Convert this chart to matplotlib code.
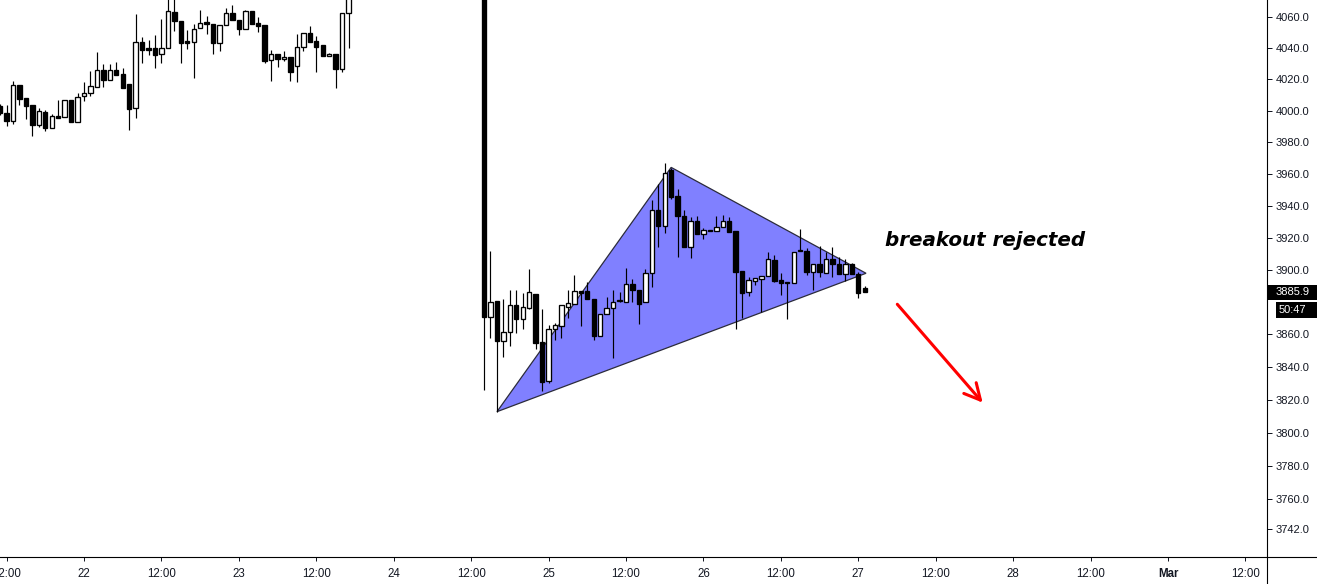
import matplotlib
matplotlib.use("Agg")
import matplotlib.pyplot as plt
import numpy as np
import pandas as pd
from matplotlib.patches import Polygon, Rectangle
from matplotlib.lines import Line2D
from matplotlib.ticker import FixedLocator, FixedFormatter, NullLocator

# ---------------- data (hourly candles) ----------------
ref_time = pd.Timestamp("2021-02-22 00:00")

s1_start = "2021-02-21 11:00"
s1_open = [4003.1, 3998.4, 3993.7, 4016.3, 4008.0, 4003.5, 3990.8, 3999.0, 3988.9, 3996.5,
           3995.9, 4006.9, 3993.1, 4009.6, 4011.2, 4015.4, 4025.9, 4019.9, 4025.9, 4023.5,
           4017.1, 4002.0, 4043.9, 4040.0, 4040.0, 4036.2, 4040.0, 4063.2, 4057.4, 4044.5,
           4044.3, 4052.9, 4056.8, 4055.5, 4043.6, 4055.0, 4062.6, 4058.3, 4052.3, 4063.9,
           4056.3, 4055.0, 4032.3, 4036.2, 4033.0, 4034.2, 4028.5, 4040.6, 4049.7, 4044.5,
           4041.9, 4034.9, 4036.2, 4026.5, 4062.6]
s1_high = [4004.0, 4003.5, 4019.0, 4016.5, 4008.0, 4003.5, 4001.6, 4000.5, 3998.0, 4006.9,
           4006.9, 4006.9, 4011.2, 4018.4, 4025.4, 4037.6, 4029.9, 4029.9, 4031.2, 4027.2,
           4017.1, 4062.1, 4047.1, 4045.4, 4048.6, 4058.9, 4072.0, 4073.0, 4057.4, 4051.8,
           4055.7, 4064.7, 4060.8, 4055.5, 4055.0, 4065.8, 4067.9, 4058.3, 4064.7, 4063.9,
           4060.0, 4055.0, 4038.9, 4036.2, 4038.1, 4034.2, 4049.2, 4049.7, 4054.2, 4047.7,
           4041.9, 4037.2, 4036.2, 4062.6, 4078.0]
s1_low = [3997.5, 3990.3, 3991.6, 4003.7, 3995.0, 3984.0, 3989.9, 3987.4, 3988.9, 3995.6,
          3995.9, 3993.1, 3993.1, 4006.5, 4009.6, 4015.4, 4015.4, 4019.9, 4023.1, 4014.8,
          3987.8, 3995.6, 4030.8, 4035.7, 4027.6, 4030.8, 4040.0, 4051.2, 4030.8, 4039.6,
          4021.2, 4052.9, 4049.4, 4036.5, 4038.5, 4055.0, 4058.3, 4048.4, 4052.3, 4055.5,
          4050.3, 4030.4, 4018.8, 4028.2, 4031.9, 4018.8, 4018.4, 4038.1, 4044.3, 4024.6,
          4034.9, 4034.9, 4014.4, 4024.6, 4040.0]
s1_close = [3998.4, 3993.7, 4016.3, 4007.7, 4003.3, 3991.2, 3999.7, 3989.1, 3996.5, 3995.6,
            4006.9, 3993.1, 4008.6, 4011.2, 4015.7, 4025.9, 4019.9, 4025.9, 4023.1, 4014.8,
            4001.3, 4043.9, 4039.1, 4038.9, 4035.9, 4040.0, 4063.9, 4057.4, 4043.6, 4043.6,
            4052.6, 4056.1, 4055.5, 4043.6, 4055.0, 4062.6, 4058.3, 4052.3, 4063.9, 4055.5,
            4054.6, 4031.7, 4036.2, 4033.0, 4034.2, 4025.0, 4040.6, 4049.7, 4044.3, 4041.0,
            4034.9, 4036.2, 4026.5, 4062.6, 4075.0]

s2_start = "2021-02-24 14:00"
s2_open = [4080.0, 3870.6, 3880.7, 3856.2, 3861.7, 3878.2, 3869.8, 3876.5, 3885.0, 3855.2,
           3831.7, 3863.2, 3865.4, 3877.2, 3879.0, 3886.7, 3886.7, 3881.7, 3859.3, 3872.7,
           3876.2, 3881.5, 3879.9, 3891.4, 3887.5, 3879.9, 3897.8, 3937.1, 3927.1, 3962.5,
           3945.9, 3933.4, 3914.0, 3930.2, 3922.1, 3924.8, 3924.2, 3926.5, 3930.5, 3924.2,
           3899.1, 3886.1, 3893.3, 3894.5, 3896.3, 3906.1, 3893.7, 3892.3, 3892.0, 3912.5,
           3911.5, 3898.8, 3903.6, 3897.8, 3906.5, 3903.4, 3897.2, 3903.4, 3897.2, 3888.5]
s2_high = [4082.0, 3911.7, 3880.7, 3881.9, 3887.5, 3887.5, 3885.6, 3900.5, 3885.0, 3875.7,
           3866.0, 3867.3, 3878.0, 3887.5, 3896.6, 3886.7, 3892.6, 3881.7, 3872.7, 3883.3,
           3887.5, 3886.3, 3900.9, 3894.3, 3887.5, 3900.5, 3943.6, 3953.5, 3966.7, 3964.0,
           3950.5, 3937.3, 3933.1, 3933.5, 3926.2, 3924.8, 3933.5, 3934.2, 3933.1, 3924.2,
           3899.1, 3895.5, 3894.7, 3896.3, 3911.1, 3909.0, 3897.8, 3892.3, 3911.1, 3925.4,
           3913.4, 3903.6, 3914.8, 3911.2, 3914.0, 3908.1, 3906.5, 3904.4, 3898.6, 3889.8]
s2_low = [3826.0, 3857.9, 3812.8, 3846.4, 3853.1, 3861.1, 3863.4, 3875.7, 3850.9, 3825.6,
          3830.5, 3856.6, 3858.0, 3870.0, 3879.0, 3865.4, 3881.7, 3856.6, 3859.3, 3872.7,
          3845.8, 3880.1, 3879.9, 3879.9, 3866.3, 3879.9, 3889.5, 3914.3, 3923.1, 3944.4,
          3908.1, 3914.0, 3907.1, 3922.1, 3918.9, 3924.2, 3924.2, 3926.5, 3923.8, 3863.4,
          3870.4, 3884.0, 3890.8, 3873.7, 3896.3, 3892.4, 3884.6, 3869.8, 3891.6, 3911.9,
          3897.0, 3887.3, 3895.7, 3897.8, 3895.7, 3897.6, 3893.3, 3897.2, 3882.4, 3885.9]
s2_close = [3870.6, 3880.2, 3856.2, 3861.7, 3878.2, 3869.8, 3877.0, 3886.3, 3855.0, 3831.1,
            3863.2, 3865.7, 3878.0, 3879.4, 3886.7, 3885.8, 3881.7, 3859.3, 3872.7, 3876.2,
            3880.2, 3880.5, 3891.4, 3887.3, 3879.0, 3897.8, 3937.1, 3927.1, 3960.4, 3945.7,
            3933.4, 3914.0, 3930.2, 3922.1, 3924.6, 3924.2, 3926.5, 3930.5, 3923.8, 3898.5,
            3885.8, 3893.5, 3894.7, 3896.3, 3906.7, 3893.3, 3892.0, 3891.8, 3911.1, 3911.9,
            3898.8, 3903.6, 3898.8, 3906.5, 3903.8, 3897.6, 3903.4, 3897.2, 3885.8, 3885.9]

# triangle pattern drawing (time, price)
tri_times = ["2021-02-24 16:00", "2021-02-25 19:00", "2021-02-27 01:12"]
tri_prices = [3812.8, 3964.1, 3897.8]

last_price_label = "3885.9"
countdown_label = "50:47"

y_ticks = [3742, 3760, 3780, 3800, 3820, 3840, 3860, 3900, 3920, 3940, 3960, 3980,
           4000, 4020, 4040, 4060]
y_tick_labels = ["%.1f" % v for v in y_ticks]

x_tick_times = ["2021-02-21 12:00", "2021-02-22", "2021-02-22 12:00", "2021-02-23",
                "2021-02-23 12:00", "2021-02-24", "2021-02-24 12:00", "2021-02-25",
                "2021-02-25 12:00", "2021-02-26", "2021-02-26 12:00", "2021-02-27",
                "2021-02-27 12:00", "2021-02-28", "2021-02-28 12:00", "2021-03-01",
                "2021-03-01 12:00"]
x_tick_labels = ["12:00", "22", "12:00", "23", "12:00", "24", "12:00", "25", "12:00",
                 "26", "12:00", "27", "12:00", "28", "12:00", "Mar", "12:00"]

# ---------------- build ----------------
def hours(ts):
    return (pd.to_datetime(ts) - ref_time) / pd.Timedelta(hours=1)

t1 = pd.date_range(s1_start, periods=len(s1_open), freq="h")
t2 = pd.date_range(s2_start, periods=len(s2_open), freq="h")
x = np.concatenate([hours(t1).values, hours(t2).values]).astype(float)
o = np.array(s1_open + s2_open)
h = np.array(s1_high + s2_high)
l = np.array(s1_low + s2_low)
c = np.array(s1_close + s2_close)

W, H = 1317, 584
axis_x = 1266.5
axis_y = 557.3
fig = plt.figure(figsize=(W / 100, H / 100), dpi=100)
fig.patch.set_facecolor("white")
ax = fig.add_axes([0, (H - axis_y) / H, axis_x / W, axis_y / H])
ax.set_yscale("log")
ax.set_xlim(-13.02, 183.27)
ax.set_ylim(3725.4, 4071.2)

tri_x = [float(hours(t)) for t in tri_times]
tri = Polygon(list(zip(tri_x, tri_prices)), closed=True, facecolor="#8080ff",
              edgecolor="#2b2b3b", lw=0.9, zorder=1)
ax.add_patch(tri)

ax.vlines(x, l, h, color="black", lw=0.85, zorder=2)
up = c >= o
bottoms = np.minimum(o, c)
heights = np.abs(c - o)
ax.bar(x, heights, bottom=bottoms, width=0.68,
       color=np.where(up, "white", "black"), edgecolor="black", lw=0.95, zorder=3)

for s in ax.spines.values():
    s.set_visible(False)

ax.yaxis.tick_right()
ax.yaxis.set_major_locator(FixedLocator(y_ticks))
ax.yaxis.set_major_formatter(FixedFormatter(y_tick_labels))
ax.yaxis.set_minor_locator(NullLocator())
ax.yaxis.set_minor_formatter(FixedFormatter([]))
ax.tick_params(axis="y", direction="out", length=3.3, width=0.72, pad=3.4,
               labelsize=8, colors="#131722")
ax.set_xticks([float(hours(t)) for t in x_tick_times])
ax.set_xticklabels(x_tick_labels)
ax.tick_params(axis="x", direction="out", length=3, width=0.72, pad=4.5,
               labelsize=8.3, colors="#131722")
for lab in ax.get_xticklabels():
    lab.set_family("Liberation Sans")
    if lab.get_text() == "Mar":
        lab.set_fontweight("bold")
for lab in ax.get_yticklabels():
    lab.set_family("Liberation Sans")

fig.add_artist(Line2D([axis_x / W] * 2, [0, 1], transform=fig.transFigure,
                      color="black", lw=0.8))
fig.add_artist(Line2D([0, 1], [(H - axis_y) / H] * 2, transform=fig.transFigure,
                      color="black", lw=0.8))

ax.text(124.1, 3918.5, "breakout rejected", fontsize=14.3, fontweight="bold",
        fontstyle="italic", family="DejaVu Sans", va="center", ha="left", zorder=5)

ax.annotate("", xy=(139.28, 3818.3), xytext=(126.05, 3878.6),
            arrowprops=dict(arrowstyle="->,head_length=1.15,head_width=0.59",
                            color="#ff0000", lw=2.2, shrinkA=0, shrinkB=0,
                            mutation_scale=10), zorder=5)

# last price and countdown boxes on the price scale
ypix = ax.transData.transform((0, c[-1]))[1]
yf = ypix / H
fig.add_artist(Rectangle((axis_x / W, yf - 7.5 / H), (W - axis_x) / W, 15 / H,
                         transform=fig.transFigure, facecolor="black", edgecolor="none"))
fig.text(1275.7 / W, yf, last_price_label, color="white", fontsize=8,
         family="Liberation Sans", va="center", ha="left")
fig.add_artist(Rectangle((1275.5 / W, yf - 26 / H), (W - 1275.5) / W, 16.5 / H,
                         transform=fig.transFigure, facecolor="black", edgecolor="none"))
fig.text(1278.5 / W, yf - 17.8 / H, countdown_label, color="white", fontsize=8,
         family="Liberation Sans", va="center", ha="left")

fig.savefig("out.png", dpi=100, facecolor="white")
